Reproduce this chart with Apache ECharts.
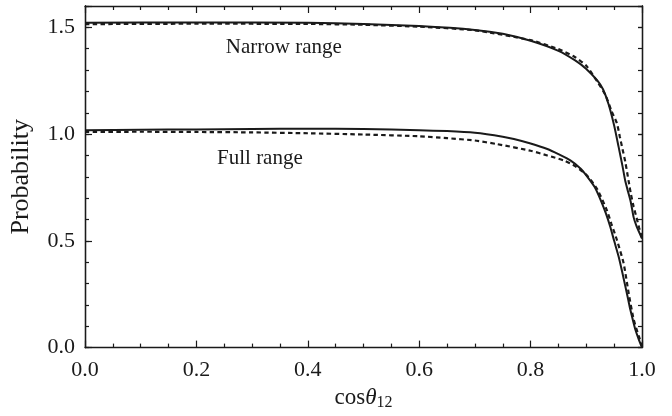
<!DOCTYPE html>
<html>
<head>
<meta charset="utf-8">
<script src="https://cdn.jsdelivr.net/npm/echarts@6/dist/echarts.min.js"></script>
<style>
  html, body { margin: 0; padding: 0; background: #fff; }
  #chart { width: 672px; height: 416px; }
</style>
</head>
<body>
<div id="chart"></div>
<script>
// narrow range, solid
var narrowSolidX = [0, 0.2, 0.4, 0.5, 0.6, 0.7, 0.75, 0.8, 0.85, 0.88, 0.9, 0.92, 0.93, 0.94, 0.95, 0.958, 0.965, 0.97, 0.975, 0.98, 0.985, 0.99, 0.995, 1.0];
var narrowSolidY = [1.521, 1.523, 1.521, 1.516, 1.506, 1.488, 1.47, 1.437, 1.39, 1.345, 1.305, 1.25, 1.21, 1.14, 1.04, 0.94, 0.85, 0.78, 0.73, 0.68, 0.61, 0.57, 0.54, 0.51];
// narrow range, dotted
var narrowDotX = [0, 0.2, 0.4, 0.5, 0.6, 0.7, 0.8, 0.85, 0.88, 0.9, 0.92, 0.935, 0.945, 0.955, 0.96, 0.965, 0.97, 0.976, 0.98, 0.985, 0.99, 0.995, 1.0];
var narrowDotY = [1.515, 1.517, 1.516, 1.512, 1.503, 1.486, 1.44, 1.398, 1.36, 1.32, 1.245, 1.18, 1.11, 1.05, 0.99, 0.93, 0.87, 0.78, 0.72, 0.66, 0.61, 0.56, 0.515];
// full range, solid
var fullSolidX = [0, 0.1, 0.2, 0.3, 0.4, 0.5, 0.6, 0.65, 0.7, 0.75, 0.77, 0.8, 0.83, 0.85, 0.872, 0.89, 0.902, 0.915, 0.926, 0.935, 0.943, 0.95, 0.958, 0.964, 0.97, 0.975, 0.979, 0.984, 0.988, 0.994, 1.0];
var fullSolidY = [1.018, 1.02, 1.022, 1.024, 1.025, 1.024, 1.018, 1.014, 1.006, 0.988, 0.977, 0.956, 0.93, 0.906, 0.876, 0.838, 0.8, 0.752, 0.69, 0.63, 0.566, 0.5, 0.427, 0.36, 0.288, 0.228, 0.178, 0.125, 0.085, 0.04, 0.0];
// full range, dotted
var fullDotX = [0, 0.1, 0.2, 0.3, 0.4, 0.5, 0.6, 0.65, 0.7, 0.74, 0.8, 0.83, 0.86, 0.88, 0.9, 0.92, 0.937, 0.945, 0.955, 0.967, 0.976, 0.985, 0.994, 1.0];
var fullDotY = [1.01, 1.011, 1.01, 1.008, 1.004, 0.998, 0.99, 0.981, 0.97, 0.953, 0.922, 0.9, 0.876, 0.85, 0.81, 0.74, 0.643, 0.58, 0.504, 0.395, 0.256, 0.132, 0.056, 0.01];

var xTicks = [0, 0.2, 0.4, 0.6, 0.8, 1.0];
var yTicks = [0, 0.5, 1.0, 1.5];
var labels = [
  { text: 'Narrow range', x: 0.357, y: 1.405 },
  { text: 'Full range', x: 0.314, y: 0.885 }
];

function pairs(xs, ys) {
  var out = [];
  for (var i = 0; i < xs.length; i++) out.push([xs[i], ys[i]]);
  return out;
}

var font = 'Liberation Serif';
var ink = '#1a1a1a';

function xAx(pos, show) {
  return {
    type: 'value', min: 0, max: 1, interval: 0.2, position: pos,
    axisLine: { show: true, onZero: false, lineStyle: { color: ink, width: 1.3 } },
    axisTick: { show: true, inside: true, length: 7, lineStyle: { color: ink, width: 1.2 } },
    minorTick: { show: true, splitNumber: 4, length: 4, lineStyle: { color: ink, width: 1.2 } },
    splitLine: { show: false },
    axisLabel: {
      show: show, margin: 12, fontFamily: font, fontSize: 22, color: ink,
      formatter: function (v) { return xTicks.indexOf(+v.toFixed(2)) >= 0 ? v.toFixed(1) : ''; }
    }
  };
}

function yAx(pos, step, len, show) {
  return {
    type: 'value', min: 0, max: 1.6, interval: step, position: pos,
    axisLine: { show: true, onZero: false, lineStyle: { color: ink, width: 1.3 } },
    axisTick: { show: true, inside: true, length: len, lineStyle: { color: ink, width: 1.2 } },
    splitLine: { show: false },
    axisLabel: {
      show: show, margin: 10, fontFamily: font, fontSize: 22, color: ink,
      formatter: function (v) { return yTicks.indexOf(+v.toFixed(2)) >= 0 ? v.toFixed(1) : ''; }
    }
  };
}

var xAxes = [xAx('bottom', true), xAx('top', false)];
xAxes[0].name = '{a|cos}{c|\u03b8}{b|12}';
xAxes[0].nameLocation = 'middle';
xAxes[0].nameGap = 33;
xAxes[0].nameTextStyle = {
  rich: {
    a: { fontFamily: font, fontSize: 23, color: ink },
    c: { fontFamily: font, fontSize: 23, color: ink, fontStyle: 'italic' },
    b: { fontFamily: font, fontSize: 16, color: ink, padding: [10, 0, 0, 0] }
  }
};

var yAxes = [yAx('left', 0.5, 7, true), yAx('left', 0.1, 4, false), yAx('right', 0.1, 4, false), yAx('right', 0.5, 4, false)];
yAxes[0].name = 'Probability';
yAxes[0].nameLocation = 'middle';
yAxes[0].nameGap = 51;
yAxes[0].nameTextStyle = { fontFamily: font, fontSize: 26, color: ink };

function line(data, dotted, extra) {
  var s = {
    type: 'line', data: data, smooth: 0.2, showSymbol: false, symbol: 'none',
    xAxisIndex: 0, yAxisIndex: 0, silent: true,
    lineStyle: dotted ? { color: ink, width: 2.2, type: [4.5, 3.3] } : { color: ink, width: 2 }
  };
  if (extra) s.markPoint = extra;
  return s;
}

var mp = {
  symbol: 'circle', symbolSize: 0,
  label: { show: true, position: 'inside', fontFamily: font, fontSize: 21, color: ink },
  data: labels.map(function (l) {
    return { coord: [l.x, l.y], label: { formatter: l.text } };
  })
};

var myChart = echarts.init(document.getElementById('chart'));
var option = {
  animation: false,
  backgroundColor: '#fff',
  grid: { left: 84, right: 30, top: 6, bottom: 66, containLabel: false },
  xAxis: xAxes,
  yAxis: yAxes,
  series: [
    line(pairs(narrowSolidX, narrowSolidY), false, mp),
    line(pairs(narrowDotX, narrowDotY), true),
    line(pairs(fullSolidX, fullSolidY), false),
    line(pairs(fullDotX, fullDotY), true)
  ]
};
myChart.setOption(option);
</script>
</body>
</html>
